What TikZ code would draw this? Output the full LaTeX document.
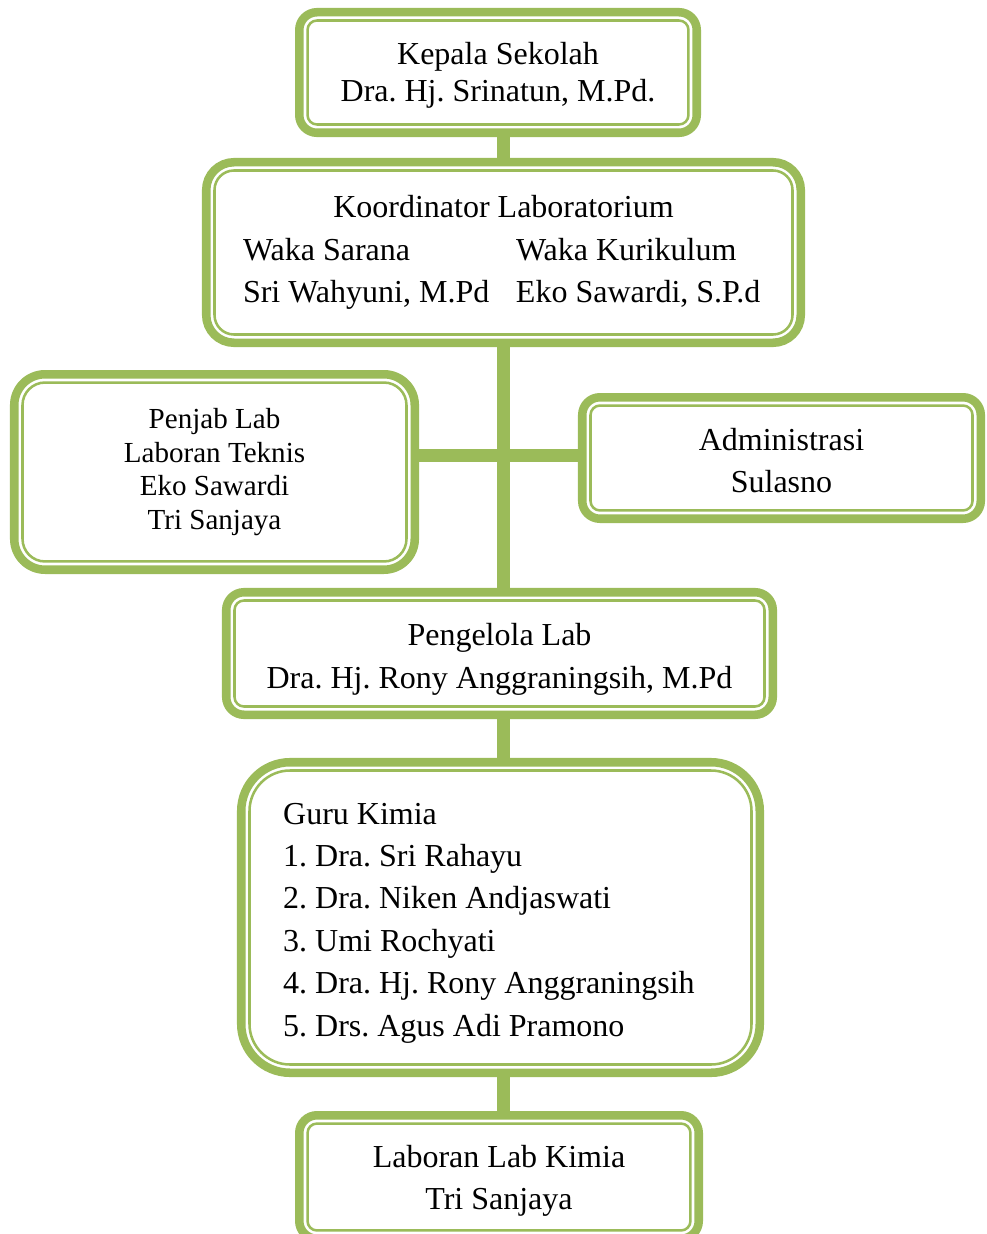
\documentclass[tikz,border=0pt]{standalone}
\usepackage{fontspec}
\setmainfont{Liberation Serif}
\usetikzlibrary{backgrounds}
\definecolor{lg}{HTML}{9BBB59}
\newcommand\innerline[2]{\draw[lg,line width=1.9pt,rounded corners=#2] ([shift={(9.4pt,-9.4pt)}]#1.north west) rectangle ([shift={(-9.4pt,9.4pt)}]#1.south east);}
\newcommand\lift[1]{\rule{0pt}{#1}}
\begin{document}
\frenchspacing
\begin{tikzpicture}[x=0.75pt,y=-0.75pt,
  box/.style={draw=lg, line width=6.4pt, fill=white, inner sep=0pt, align=center, font=\fontsize{24}{31.8}\selectfont\frenchspacing},
  conn/.style={draw=lg, line width=9.75pt}]
\useasboundingbox (0,0) rectangle (986,1234);
\clip (0,0) rectangle (986,1234);

\node[box, minimum width=298.1pt, minimum height=90.4pt, rounded corners=13.3pt, font=\fontsize{24}{27.75}\selectfont\frenchspacing] (b1) at (498,72.5)
  {\lift{20.9pt}Kepala Sekolah\\Dra. Hj. Srinatun, M.Pd.};
\innerline{b1}{7.1pt}

\node[box, minimum width=445.9pt, minimum height=135.4pt, rounded corners=20.8pt] (b2) at (503.5,252.5)
  {Koordinator Laboratorium\\
   \makebox[204.75pt][l]{Waka Sarana}\makebox[186pt][l]{Waka Kurikulum}\\
   \makebox[204.75pt][l]{Sri Wahyuni, M.Pd}\makebox[186pt][l]{Eko Sawardi, S.P.d}};
\innerline{b2}{14.6pt}

\node[box, minimum width=300.4pt, minimum height=146.6pt, rounded corners=23.1pt, font=\fontsize{21.8}{25.1}\selectfont\frenchspacing] (b3) at (214.5,472)
  {Penjab Lab\\Laboran Teknis\\Eko Sawardi\\Tri Sanjaya};
\innerline{b3}{16.9pt}

\node[box, minimum width=298.9pt, minimum height=91.1pt, rounded corners=13.3pt] (b4) at (781.5,458)
  {\lift{20.9pt}Administrasi\\Sulasno};
\innerline{b4}{7.1pt}

\node[box, minimum width=409.9pt, minimum height=91.9pt, rounded corners=13.3pt] (b5) at (499.5,653.5)
  {\lift{25.4pt}Pengelola Lab\\Dra. Hj. Rony Anggraningsih, M.Pd};
\innerline{b5}{7.1pt}

\node[box, minimum width=388.9pt, minimum height=232.9pt, rounded corners=36.6pt, text width=326pt, align=flush left] (b6) at (500.5,917.5)
  {\lift{24pt}Guru Kimia\\1. Dra. Sri Rahayu\\2. Dra. Niken Andjaswati\\3. Umi Rochyati\\4. Dra. Hj. Rony Anggraningsih\\5. Drs. Agus Adi Pramono};
\innerline{b6}{30.4pt}

\node[box, minimum width=299.6pt, minimum height=92.6pt, rounded corners=13.3pt] (b7) at (499,1177)
  {\lift{22.4pt}Laboran Lab Kimia\\Tri Sanjaya};
\innerline{b7}{7.1pt}

\coordinate (tx) at (503,0);
\coordinate (by) at (0,455);
\begin{pgfonlayer}{background}
\draw[conn] (b1.south -| tx) -- (b2.north -| tx);
\draw[conn] (b2.south -| tx) -- (b5.north -| tx);
\draw[conn] (b5.south -| tx) -- (b6.north -| tx);
\draw[conn] (b6.south -| tx) -- (b7.north -| tx);
\draw[conn] (b3.east |- by) -- (b4.west |- by);
\end{pgfonlayer}
\end{tikzpicture}
\end{document}
